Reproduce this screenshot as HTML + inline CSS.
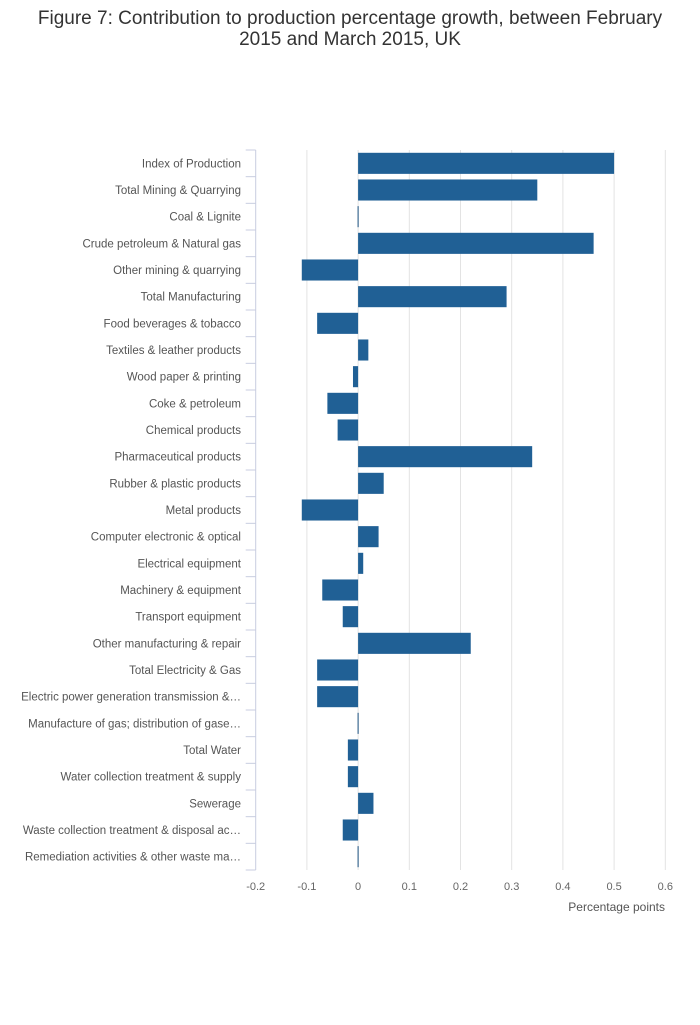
<!DOCTYPE html>
<html><head><meta charset="utf-8">
<style>
body{margin:0;background:#fff;width:700px;height:1020px;overflow:hidden;font-family:"Liberation Sans",sans-serif}
svg text{font-family:"Liberation Sans",sans-serif}
</style></head>
<body>
<svg id="chart" width="700" height="1020" viewBox="0 0 700 1020">
<text x="350" y="24" text-anchor="middle" font-size="19" fill="#333">Figure 7: Contribution to production percentage growth, between February</text>
<text x="350" y="45" text-anchor="middle" font-size="19" fill="#333">2015 and March 2015, UK</text>
<g id="grid"></g>
<g id="bars"></g>
<g id="yaxis"></g>
<g id="xaxis"></g>
<text x="665" y="911" text-anchor="end" font-size="12" fill="#555">Percentage points</text>
</svg>
<script>
const categories=["Index of Production","Total Mining & Quarrying","Coal & Lignite","Crude petroleum & Natural gas","Other mining & quarrying","Total Manufacturing","Food beverages & tobacco","Textiles & leather products","Wood paper & printing","Coke & petroleum","Chemical products","Pharmaceutical products","Rubber & plastic products","Metal products","Computer electronic & optical","Electrical equipment","Machinery & equipment","Transport equipment","Other manufacturing & repair","Total Electricity & Gas","Electric power generation transmission &…","Manufacture of gas; distribution of gase…","Total Water","Water collection treatment & supply","Sewerage","Waste collection treatment & disposal ac…","Remediation activities & other waste ma…"];
const values=[0.5,0.35,0,0.46,-0.11,0.29,-0.08,0.02,-0.01,-0.06,-0.04,0.34,0.05,-0.11,0.04,0.01,-0.07,-0.03,0.22,-0.08,-0.08,0,-0.02,-0.02,0.03,-0.03,0];
const xTicks=[-0.2,-0.1,0,0.1,0.2,0.3,0.4,0.5,0.6];
const xTickLabels=["-0.2","-0.1","0","0.1","0.2","0.3","0.4","0.5","0.6"];
const NS="http://www.w3.org/2000/svg";
const L=255.7,R=665.3,T=150,B=870,xmin=-0.2,xmax=0.6;
const x=v=>L+(v-xmin)/(xmax-xmin)*(R-L);
const band=(B-T)/categories.length;
const y=i=>T+i*band;
function mk(tag,attrs,parent){const e=document.createElementNS(NS,tag);for(const k in attrs)e.setAttribute(k,attrs[k]);parent.appendChild(e);return e;}
const grid=document.getElementById('grid'),bars=document.getElementById('bars'),ya=document.getElementById('yaxis'),xa=document.getElementById('xaxis');
xTicks.forEach((t,i)=>{
  if(t!==xmin){const g=mk('line',{x1:x(t),x2:x(t),y1:T,y2:B,stroke:'#e3e3e3','stroke-width':1},grid);
  
  }
  const tl=mk('text',{x:x(t),y:B+20,'text-anchor':'middle','font-size':11,fill:'#666'},xa);
  tl.textContent=xTickLabels[i];
  
  
});
const ax=mk('line',{x1:L,x2:L,y1:T,y2:B,stroke:'#c8cde0','stroke-width':1},ya);


for(let i=0;i<=categories.length;i++){
  const tk=mk('line',{x1:L-10,x2:L,y1:y(i),y2:y(i),stroke:'#c8cde0','stroke-width':1},ya);
  
  
}
categories.forEach((c,i)=>{
  const cy=y(i)+band/2;
  const lb=mk('text',{x:241,y:cy+4,'text-anchor':'end','font-size':11.5,fill:'#555'},ya);
  lb.textContent=c;
  
  
  const v=values[i];
  const x0=x(0),x1=x(v);
  let w=Math.abs(x1-x0),left=Math.min(x0,x1),fill='#206095';
  if(w<1){w=1;left=x0-0.5;fill='#1a4f7e';}
  const r=mk('rect',{x:left,y:y(i)+2.8,width:w,height:band-5.6,fill:fill},bars);
  
  
});
</script>
</body></html>
